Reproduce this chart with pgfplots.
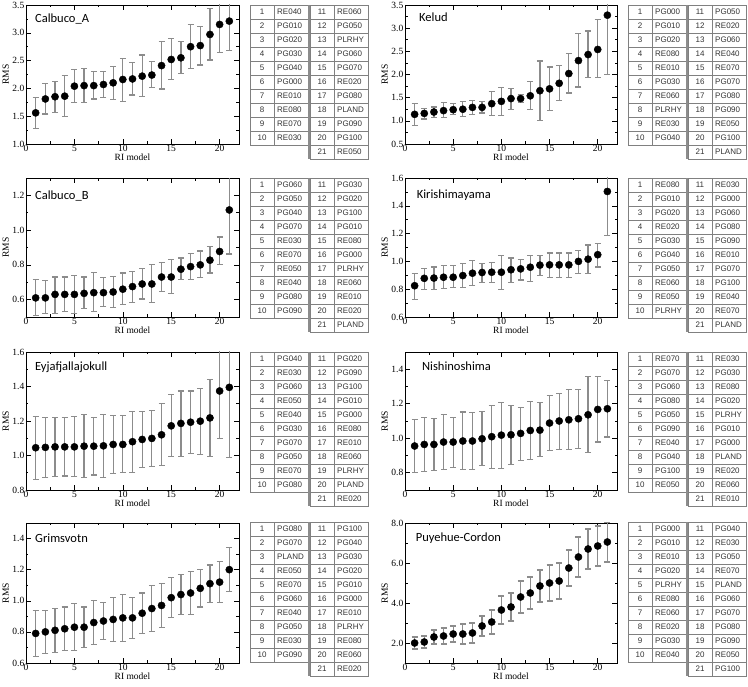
\documentclass[border=0pt]{standalone}
\usepackage{fontspec}
\setmainfont{Liberation Serif}
\newfontfamily\titlefont{Carlito}
\newfontfamily\tabfont{Liberation Sans}
\usepackage{pgfplots}
\pgfplotsset{compat=1.18}
\usepackage{pgfplotstable}

\pgfplotstableread{
x y t b
1 1.56 1.84 1.28
2 1.81 2.09 1.54
3 1.85 2.13 1.57
4 1.86 2.23 1.49
5 2.04 2.34 1.75
6 2.05 2.36 1.75
7 2.05 2.30 1.81
8 2.07 2.31 1.84
9 2.10 2.40 1.80
10 2.16 2.54 1.77
11 2.17 2.46 1.88
12 2.22 2.60 1.85
13 2.24 2.48 2.01
14 2.41 2.84 1.99
15 2.52 2.90 2.16
16 2.55 2.85 2.27
17 2.75 3.15 2.36
18 2.77 3.12 2.42
19 2.97 3.43 2.51
20 3.15 3.65 2.65
21 3.21 3.74 2.68
}\tA
\pgfplotstableread{
x y t b
1 1.14 1.38 0.90
2 1.16 1.26 1.04
3 1.19 1.30 1.07
4 1.22 1.40 1.07
5 1.24 1.37 1.13
6 1.25 1.42 1.09
7 1.29 1.44 1.14
8 1.29 1.42 1.17
9 1.37 1.64 1.11
10 1.42 1.72 1.11
11 1.48 1.69 1.24
12 1.48 1.56 1.40
13 1.54 1.85 1.24
14 1.65 2.29 1.01
15 1.69 2.16 1.22
16 1.81 2.19 1.43
17 2.02 2.45 1.60
18 2.30 2.88 1.73
19 2.43 2.94 1.94
20 2.54 3.18 1.94
21 3.28 4.50 2.00
}\tB
\pgfplotstableread{
x y t b
1 0.61 0.715 0.51
2 0.61 0.71 0.52
3 0.63 0.73 0.52
4 0.63 0.73 0.53
5 0.63 0.74 0.52
6 0.636 0.73 0.55
7 0.64 0.757 0.53
8 0.64 0.725 0.56
9 0.644 0.735 0.556
10 0.66 0.753 0.573
11 0.675 0.76 0.585
12 0.69 0.78 0.604
13 0.69 0.80 0.585
14 0.73 0.815 0.646
15 0.73 0.83 0.636
16 0.775 0.84 0.715
17 0.79 0.867 0.718
18 0.80 0.88 0.728
19 0.827 0.904 0.753
20 0.877 0.96 0.80
21 1.116 1.37 0.862
}\tC
\pgfplotstableread{
x y t b
1 0.825 0.915 0.726
2 0.878 0.95 0.80
3 0.88 0.96 0.80
4 0.886 0.968 0.806
5 0.886 0.968 0.813
6 0.898 0.985 0.813
7 0.915 1.007 0.825
8 0.92 0.985 0.85
9 0.922 0.99 0.85
10 0.922 1.045 0.80
11 0.94 1.024 0.85
12 0.946 1.016 0.866
13 0.958 1.045 0.854
14 0.973 1.045 0.898
15 0.975 1.06 0.886
16 0.975 1.06 0.886
17 0.975 1.06 0.886
18 1.0 1.08 0.915
19 1.016 1.118 0.912
20 1.048 1.128 0.96
21 1.503 1.82 1.186
}\tD
\pgfplotstableread{
x y t b
1 1.045 1.228 0.862
2 1.047 1.218 0.873
3 1.05 1.218 0.877
4 1.05 1.218 0.881
5 1.05 1.224 0.877
6 1.054 1.238 0.871
7 1.054 1.218 0.887
8 1.056 1.238 0.873
9 1.064 1.23 0.896
10 1.064 1.23 0.9
11 1.08 1.257 0.9
12 1.093 1.253 0.931
13 1.099 1.263 0.935
14 1.12 1.30 0.941
15 1.172 1.353 0.993
16 1.186 1.374 0.993
17 1.193 1.374 1.01
18 1.199 1.388 1.006
19 1.218 1.44 0.993
20 1.374 1.65 1.099
21 1.395 1.80 0.989
}\tE
\pgfplotstableread{
x y t b
1 0.955 1.109 0.80
2 0.964 1.121 0.806
3 0.964 1.115 0.814
4 0.978 1.138 0.819
5 0.978 1.121 0.829
6 0.984 1.152 0.817
7 0.984 1.15 0.819
8 0.997 1.154 0.843
9 1.009 1.19 0.825
10 1.018 1.206 0.825
11 1.02 1.192 0.85
12 1.028 1.179 0.873
13 1.045 1.215 0.877
14 1.047 1.206 0.893
15 1.088 1.25 0.929
16 1.10 1.26 0.935
17 1.107 1.283 0.935
18 1.113 1.283 0.939
19 1.136 1.36 0.916
20 1.167 1.36 0.978
21 1.171 1.337 1.007
}\tF
\pgfplotstableread{
x y t b
1 0.79 0.94 0.64
2 0.80 0.94 0.66
3 0.81 0.95 0.67
4 0.82 0.96 0.68
5 0.83 0.98 0.68
6 0.83 0.96 0.70
7 0.86 1.00 0.72
8 0.87 0.99 0.75
9 0.88 1.02 0.74
10 0.89 1.04 0.74
11 0.89 1.02 0.76
12 0.92 1.05 0.79
13 0.95 1.10 0.80
14 0.97 1.11 0.83
15 1.02 1.15 0.89
16 1.04 1.17 0.91
17 1.05 1.19 0.91
18 1.08 1.20 0.96
19 1.11 1.23 0.99
20 1.12 1.25 0.99
21 1.20 1.34 1.06
}\tG
\pgfplotstableread{
x y t b
1 2.00 2.30 1.70
2 2.05 2.35 1.75
3 2.30 2.65 1.95
4 2.35 2.75 1.95
5 2.45 2.85 2.05
6 2.45 2.95 1.95
7 2.50 3.00 2.00
8 2.85 3.35 2.35
9 3.05 3.65 2.45
10 3.65 4.35 2.95
11 3.80 4.50 3.10
12 4.30 5.10 3.50
13 4.50 5.30 3.70
14 4.85 5.65 4.05
15 5.00 5.90 4.10
16 5.10 6.00 4.20
17 5.75 6.65 4.85
18 6.30 7.30 5.30
19 6.70 7.70 5.70
20 6.85 7.85 5.85
21 7.05 8.05 6.05
}\tH

\pgfplotsset{
  rms/.style={
    scale only axis, width=213pt, height=139pt, anchor=south west,
    xmin=0, xmax=22, xtick={0,5,10,15,20},
    minor x tick num=1, minor y tick num=1,
    tick align=inside, xtick pos=both, ytick pos=both,
    major tick length=5pt, minor tick length=2.5pt,
    every tick/.style={black, line width=0.5pt},
    axis line style={line width=0.6pt},
    /pgf/number format/assume math mode=true,
    tick label style={font=\fontsize{9.5}{10}\selectfont},
    xticklabel style={inner sep=0.8pt},
    yticklabel style={inner sep=1.5pt, /pgf/number format/fixed, /pgf/number format/fixed zerofill, /pgf/number format/precision=1},
    xlabel={RI model}, ylabel={RMS},
    label style={font=\fontsize{9.5}{10}\selectfont},
    xlabel style={at={(axis description cs:0.5,0)}, anchor=north, yshift=-10pt, inner sep=0pt},
    ylabel style={at={(axis description cs:-0.095,0.5)}, anchor=center},
  },
  pts/.style={only marks, mark=*, mark size=3.6pt, mark options={black, fill=black},
    error bars/.cd, y dir=both, y explicit,
    error bar style={gray!90, line width=1.2pt},
    error mark options={rotate=90, mark size=3pt, gray!90, line width=1.2pt}},
}
\newcommand{\ttl}[3]{\node[font=\titlefont\fontsize{12.5}{13}\selectfont, anchor=west, inner sep=0pt] at (rel axis cs:#1,#2) {#3};}
\newcommand{\pl}[1]{\addplot[pts] table[x=x, y=y, y error plus expr=\thisrow{t}-\thisrow{y}, y error minus expr=\thisrow{y}-\thisrow{b}] {#1};}
\newcommand{\tf}{\tabfont\fontsize{8}{9}\selectfont}
\newcommand{\rtable}[3]{%
  \foreach \nm [count=\i] in {#3} {
    \ifnum\i<11
      \pgfmathsetmacro{\xa}{#1}\pgfmathsetmacro{\yy}{#2-(\i-1)*14}
    \else
      \pgfmathsetmacro{\xa}{#1+60}\pgfmathsetmacro{\yy}{#2-(\i-11)*14}
    \fi
    \draw[black!50, line width=0.5pt] (\xa,\yy) rectangle ++(24,-14);
    \draw[black!50, line width=0.5pt] ({\xa+24},\yy) rectangle ++(34,-14);
    \node[font=\tf, text=black!80, inner sep=0pt] at ({\xa+12},{\yy-7}) {\i};
    \node[font=\tf, text=black!80, anchor=west, inner sep=0pt] at ({\xa+27},{\yy-7}) {\nm};
  }
  \draw[black!45, line width=2pt] ({#1+59},#2) -- ({#1+59},{#2-154});
}

\begin{document}
\begin{tikzpicture}[x=1pt,y=1pt]
\path[use as bounding box] (0,0) rectangle (748,687);

% Row 1
\begin{axis}[rms, at={(26pt,543pt)}, ymin=1, ymax=3.5, ytick={1,1.5,2,2.5,3,3.5}]
\pl{\tA}
\ttl{0.042}{0.9}{Calbuco\_A}
\end{axis}
\begin{axis}[rms, at={(405pt,543pt)}, width=212pt, ymin=0.5, ymax=3.5, ytick={0.5,1,1.5,2,2.5,3,3.5}]
\pl{\tB}
\ttl{0.066}{0.91}{Kelud}
\end{axis}

% Row 2
\begin{axis}[rms, at={(26pt,370pt)}, ymin=0.5, ymax=1.3, ytick={0.6,0.8,1.0,1.2}]
\pl{\tC}
\ttl{0.042}{0.87}{Calbuco\_B}
\end{axis}
\begin{axis}[rms, at={(405pt,370pt)}, width=212pt, ymin=0.6, ymax=1.6, ytick={0.6,0.8,1.0,1.2,1.4,1.6}]
\pl{\tD}
\ttl{0.055}{0.88}{Kirishimayama}
\end{axis}

% Row 3
\begin{axis}[rms, at={(26pt,197pt)}, height=138pt, ymin=0.8, ymax=1.6, ytick={0.8,1.0,1.2,1.4,1.6}]
\pl{\tE}
\ttl{0.042}{0.89}{Eyjafjallajokull}
\end{axis}
\begin{axis}[rms, at={(405pt,197pt)}, width=212pt, height=138pt, ymin=0.7, ymax=1.5, ytick={0.8,1.0,1.2,1.4}]
\pl{\tF}
\ttl{0.08}{0.9}{Nishinoshima}
\end{axis}

% Row 4
\begin{axis}[rms, at={(26pt,24pt)}, height=140pt, ymin=0.6, ymax=1.5, ytick={0.6,0.8,1.0,1.2,1.4}]
\pl{\tG}
\ttl{0.042}{0.89}{Grimsvotn}
\end{axis}
\begin{axis}[rms, at={(405pt,24pt)}, width=212pt, height=140pt, ymin=1, ymax=8, ytick={2,4,6,8}]
\pl{\tH}
\ttl{0.05}{0.89}{Puyehue-Cordon}
\end{axis}

% Tables
\rtable{250}{682}{RE040,PG010,PG020,PG030,PG040,PG000,RE010,RE080,RE070,RE030,RE060,PG050,PLRHY,PG060,PG070,RE020,PG080,PLAND,PG090,PG100,RE050}
\rtable{628}{682}{PG000,PG010,PG020,RE080,RE010,PG030,RE060,PLRHY,RE030,PG040,PG050,RE020,PG060,RE040,RE070,PG070,PG080,PG090,RE050,PG100,PLAND}
\rtable{250}{509}{PG060,PG050,PG040,PG070,RE030,RE070,RE050,RE040,PG080,PG090,PG030,PG020,PG100,PG010,RE080,PG000,PLRHY,RE060,RE010,RE020,PLAND}
\rtable{628}{509}{RE080,PG010,PG020,RE020,PG030,PG040,PG050,RE060,RE050,PLRHY,RE030,PG000,PG060,PG080,PG090,RE010,PG070,PG100,RE040,RE070,PLAND}
\rtable{250}{335}{PG040,RE030,PG060,RE050,RE040,PG030,PG070,PG050,RE070,PG080,PG020,PG090,PG100,PG010,PG000,RE080,RE010,RE060,PLRHY,PLAND,RE020}
\rtable{628}{335}{RE070,PG070,PG060,PG080,PG050,PG090,RE040,PG040,PG100,RE050,RE030,PG030,RE080,PG020,PLRHY,PG010,PG000,PLAND,RE020,RE060,RE010}
\rtable{250}{165}{PG080,PG070,PLAND,RE050,RE070,PG060,RE040,PG050,RE030,PG090,PG100,PG040,PG030,PG020,PG010,PG000,RE010,PLRHY,RE080,RE060,RE020}
\rtable{628}{165}{PG000,PG010,RE010,PG020,PLRHY,RE080,RE060,RE020,PG030,RE040,PG040,RE030,PG050,RE070,PLAND,PG060,PG070,PG080,PG090,RE050,PG100}
\end{tikzpicture}
\end{document}
